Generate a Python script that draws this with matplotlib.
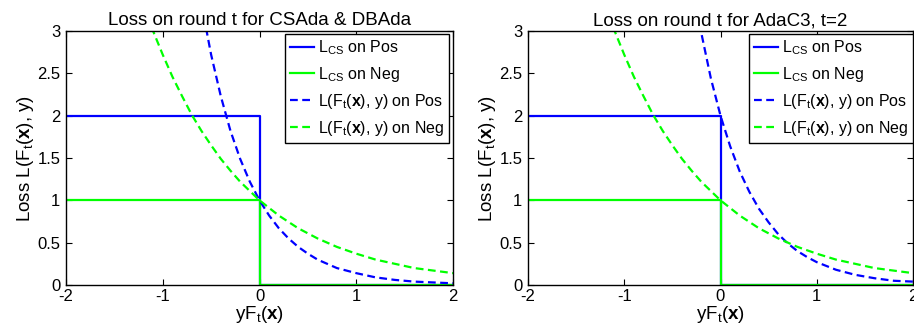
import matplotlib
matplotlib.use("Agg")
import matplotlib.pyplot as plt

plt.rcParams['font.family'] = ['Liberation Sans', 'DejaVu Sans']
plt.rcParams['mathtext.fontset'] = 'custom'
plt.rcParams['mathtext.rm'] = 'Liberation Sans'
plt.rcParams['mathtext.it'] = 'Liberation Sans:italic'
plt.rcParams['mathtext.bf'] = 'Liberation Sans:bold'

# Step losses (same in both panels)
step_x = [-2, 0, 0, 2]
lcs_pos_y = [2, 2, 0, 0]
lcs_neg_y = [1, 1, 0, 0]

# Left panel: exponential losses
left_pos_x = [-0.6, -0.5, -0.4, -0.3, -0.2, -0.1, 0.0, 0.1, 0.2, 0.3, 0.4, 0.5, 0.6,
              0.7, 0.8, 0.9, 1.0, 1.2, 1.4, 1.6, 1.8, 2.0]
left_pos_y = [3.32, 2.72, 2.23, 1.82, 1.49, 1.22, 1.00, 0.82, 0.67, 0.55, 0.45, 0.37, 0.30,
              0.25, 0.20, 0.17, 0.14, 0.09, 0.06, 0.04, 0.03, 0.02]
neg_x = [-1.2, -1.1, -1.0, -0.9, -0.8, -0.7, -0.6, -0.5, -0.4, -0.3, -0.2, -0.1, 0.0,
         0.2, 0.4, 0.6, 0.8, 1.0, 1.2, 1.4, 1.6, 1.8, 2.0]
neg_y = [3.32, 3.00, 2.72, 2.46, 2.23, 2.01, 1.82, 1.65, 1.49, 1.35, 1.22, 1.11, 1.00,
         0.82, 0.67, 0.55, 0.45, 0.37, 0.30, 0.25, 0.20, 0.17, 0.14]

# Right panel (AdaC3, t=2)
right_pos_x = [-0.3, -0.2, -0.1, 0.0, 0.1, 0.2, 0.3, 0.4, 0.5, 0.6, 0.7, 0.8, 0.9, 1.0,
               1.2, 1.4, 1.6, 1.8, 2.0]
right_pos_y = [3.64, 2.98, 2.44, 2.00, 1.64, 1.34, 1.10, 0.90, 0.74, 0.60, 0.49, 0.40, 0.33, 0.27,
               0.18, 0.12, 0.08, 0.05, 0.04]

titles = ['Loss on round t for CSAda & DBAda', 'Loss on round t for AdaC3, t=2']
xticks = [-2, -1, 0, 1, 2]
yticks = [0, 0.5, 1, 1.5, 2, 2.5, 3]
ytick_labels = ['0', '0.5', '1', '1.5', '2', '2.5', '3']
labels = [r'L$_{\mathrm{CS}}$ on Pos', r'L$_{\mathrm{CS}}$ on Neg',
          r'L(F$_{\mathrm{t}}$($\mathbf{x}$), y) on Pos',
          r'L(F$_{\mathrm{t}}$($\mathbf{x}$), y) on Neg']

BLUE = '#0000ff'
GREEN = '#00ff00'

fig = plt.figure(figsize=(9.14, 3.32), dpi=100)
positions = [[66/914, 1-285/332, 387/914, 254/332],
             [528/914, 1-285/332, 385/914, 254/332]]
pos_data = [(left_pos_x, left_pos_y), (right_pos_x, right_pos_y)]

for i in range(2):
    ax = fig.add_axes(positions[i])
    ax.plot(step_x, lcs_pos_y, color=BLUE, lw=1.6, label=labels[0])
    ax.plot(step_x, lcs_neg_y, color=GREEN, lw=1.6, label=labels[1])
    ax.plot(pos_data[i][0], pos_data[i][1], color=BLUE, lw=1.6, ls=(0, (3.5, 2)), label=labels[2])
    ax.plot(neg_x, neg_y, color=GREEN, lw=1.6, ls=(0, (3.5, 2)), label=labels[3])
    ax.set_xlim(-2, 2)
    ax.set_ylim(0, 3)
    ax.set_xticks(xticks)
    ax.set_xticklabels([str(t) for t in xticks])
    ax.set_yticks(yticks)
    ax.set_yticklabels(ytick_labels)
    ax.tick_params(direction='in', top=True, right=True, labelsize=12, length=4, width=0.8)
    ax.tick_params(axis='x', pad=3)
    ax.tick_params(axis='y', pad=4)
    for s in ax.spines.values():
        s.set_linewidth(1.0)
    ax.set_title(titles[i], fontsize=13.5, pad=4)
    ax.set_xlabel(r'yF$_{\mathrm{t}}$($\mathbf{x}$)', fontsize=13.5, labelpad=0)
    ax.set_ylabel(r'Loss L(F$_{\mathrm{t}}$($\mathbf{x}$), y)', fontsize=13.5, labelpad=1)
    leg = ax.legend(loc='upper right', bbox_to_anchor=(0.99 if i == 0 else 1.0, 0.99),
                    fontsize=11.5, frameon=True, fancybox=False, framealpha=1,
                    edgecolor='black', handlelength=1.5, handletextpad=0.25,
                    borderpad=0.3, labelspacing=0.5, borderaxespad=0.0)
    leg.get_frame().set_linewidth(1.0)

fig.savefig('out.png', dpi=100)
